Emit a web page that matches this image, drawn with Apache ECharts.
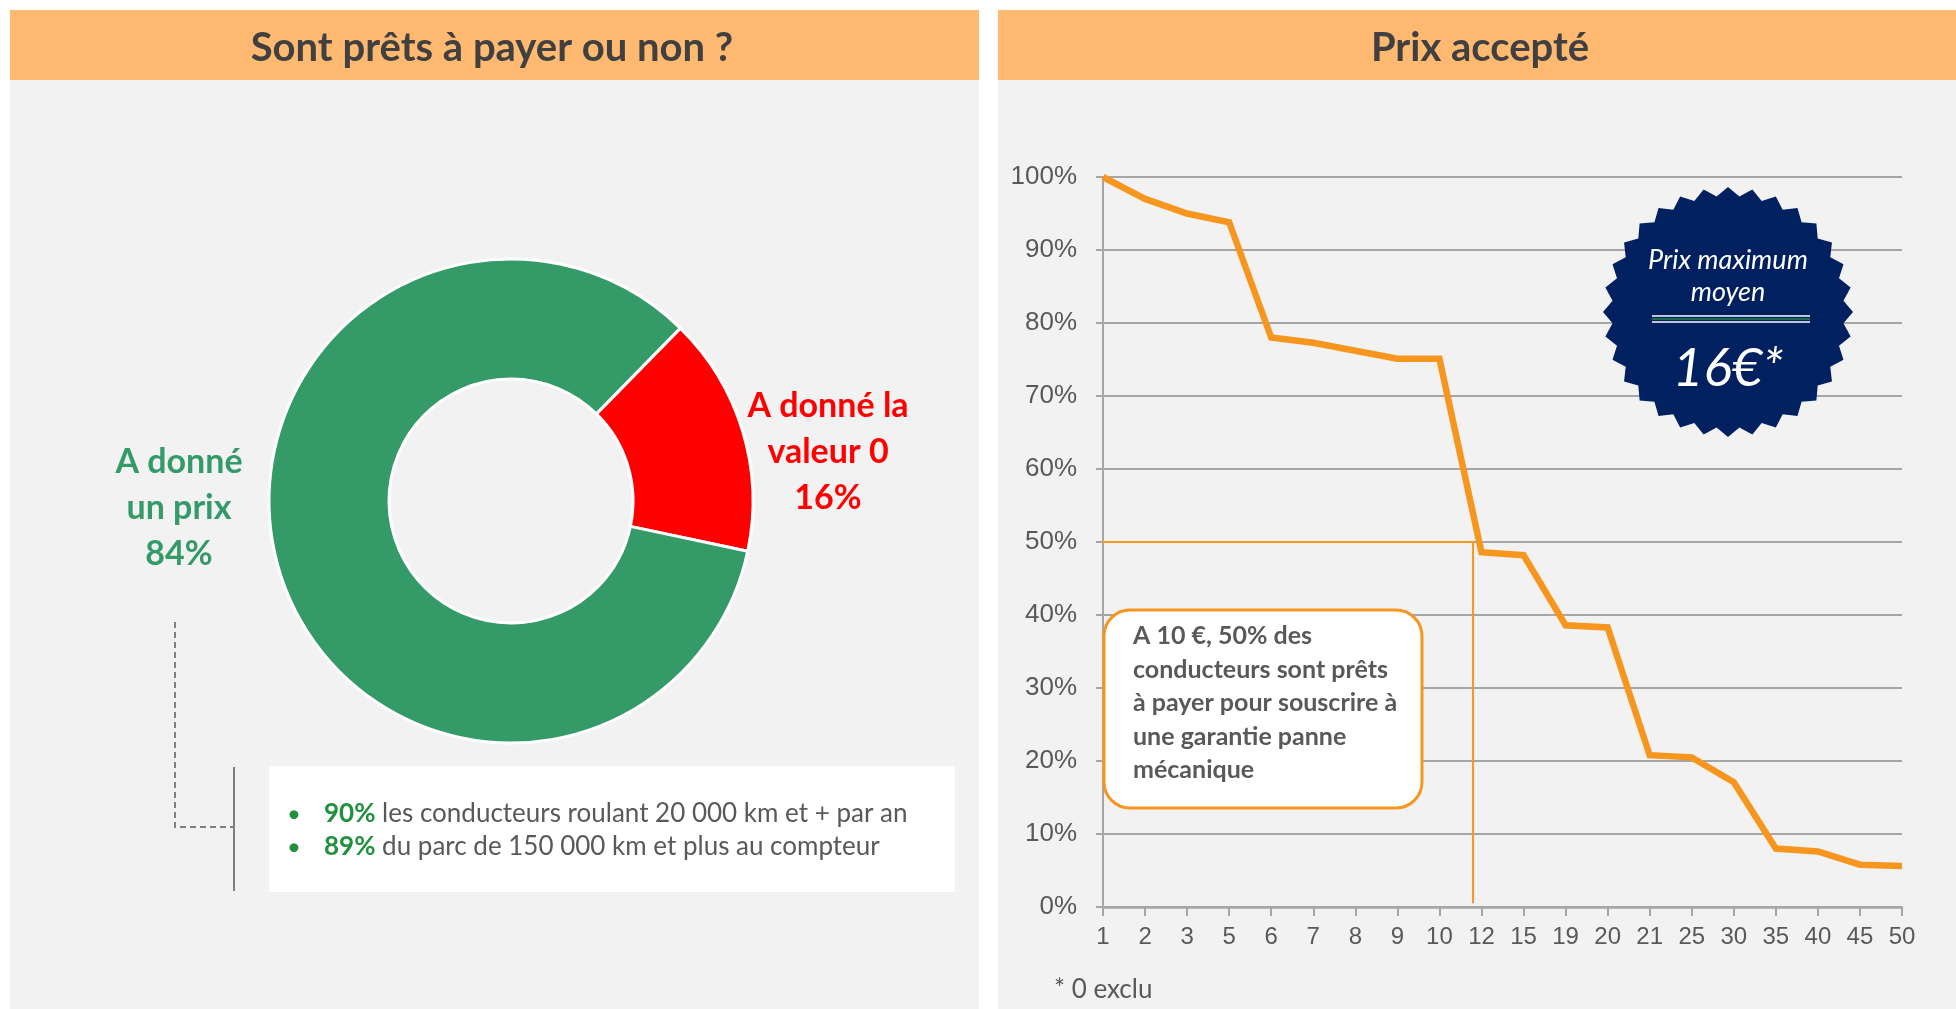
<!DOCTYPE html>
<html>
<head>
<meta charset="utf-8">
<script src="https://cdn.jsdelivr.net/npm/echarts@6/dist/echarts.min.js"></script>
<style>
  html, body { margin: 0; padding: 0; background: #ffffff; }
  #chart { width: 1956px; height: 1009px; }
</style>
</head>
<body>
<div id="chart"></div>
<script>
// ---- Donut: willingness to pay ----
const payLabelLines = [['A donné la', 'valeur 0'], ['A donné', 'un prix']];
const payShares = [16, 84];
const payColors = ['#FF0000', '#349A68'];

// ---- Line: share of drivers accepting each price ----
const priceLabels = ['1', '2', '3', '5', '6', '7', '8', '9', '10', '12', '15', '19', '20', '21', '25', '30', '35', '40', '45', '50'];
const acceptShare = [100, 97, 95, 93.8, 78, 77.3, 76.2, 75.1, 75.1, 48.6, 48.2, 38.6, 38.3, 20.8, 20.5, 17.1, 8.0, 7.6, 5.8, 5.6];

// 50 % reading guide (position along the price axis, between "10" and "12")
const guideLevel = 50;
const guidePricePos = 8.8;

// ---- Side notes ----
const noteShares = ['90%', '89%'];
const noteTexts = ['les conducteurs roulant 20 000 km et + par an', 'du parc de 150 000 km et plus au compteur'];
const calloutLines = ['A 10 €, 50% des', 'conducteurs sont prêts', 'à payer pour souscrire à', 'une garantie panne', 'mécanique'];
const badgeLines = ['Prix maximum', 'moyen'];
const badgeValue = '16€*';
const footnote = '* 0 exclu';
const panelTitles = ['Sont prêts à payer ou non ?', 'Prix accepté'];

const FONT = 'Lato, "Open Sans", sans-serif';
const AXIS_FONT = '"Liberation Sans", Arial, sans-serif';
const ORANGE = '#F7961E';
const GRID_GRAY = '#A6A6A6';
const TEXT_GRAY = '#595959';

const chart = echarts.init(document.getElementById('chart'), null, { renderer: 'canvas' });

// star-shaped badge outline
function starPoints(cx, cy, rOuter, rInner, n) {
  const pts = [];
  for (let i = 0; i < n * 2; i++) {
    const a = -Math.PI / 2 + i * Math.PI / n;
    const r = i % 2 === 0 ? rOuter : rInner;
    pts.push([cx + r * Math.cos(a), cy + r * Math.sin(a)]);
  }
  return pts;
}

const badgeCx = 1728, badgeCy = 312;

const graphics = [
  // panel backgrounds
  { type: 'rect', z: -100, silent: true, shape: { x: 10, y: 80, width: 969, height: 929 }, style: { fill: '#F2F2F2' } },
  { type: 'rect', z: -100, silent: true, shape: { x: 998, y: 80, width: 958, height: 929 }, style: { fill: '#F2F2F2' } },
  // panel headers
  { type: 'rect', z: -100, silent: true, shape: { x: 10, y: 10, width: 969, height: 70 }, style: { fill: '#FFB971' } },
  { type: 'rect', z: -100, silent: true, shape: { x: 998, y: 10, width: 958, height: 70 }, style: { fill: '#FFB971' } },
  { type: 'text', z: 10, silent: true, style: { text: panelTitles[0], x: 492, y: 48, align: 'center', verticalAlign: 'middle', fontFamily: FONT, fontWeight: 'bold', fontSize: 40, fill: '#404040' } },
  { type: 'text', z: 10, silent: true, style: { text: panelTitles[1], x: 1480, y: 48, align: 'center', verticalAlign: 'middle', fontFamily: FONT, fontWeight: 'bold', fontSize: 40, fill: '#404040' } },

  // bracket linking the green share to the notes
  { type: 'polyline', z: 5, silent: true, shape: { points: [[175, 622], [175, 827], [234, 827]] }, style: { stroke: '#7F7F7F', lineWidth: 2, lineDash: [6, 4], fill: null } },
  { type: 'line', z: 5, silent: true, shape: { x1: 234, y1: 767, x2: 234, y2: 891 }, style: { stroke: '#7F7F7F', lineWidth: 2 } },
  { type: 'rect', z: 5, silent: true, shape: { x: 269, y: 766, width: 686, height: 126 }, style: { fill: '#FFFFFF' } },

  // footnote
  { type: 'text', z: 10, silent: true, style: { text: footnote, x: 1054, y: 990, align: 'left', verticalAlign: 'middle', fontFamily: FONT, fontSize: 26, fill: TEXT_GRAY } },

  // callout box
  { type: 'rect', z: 100, silent: true, shape: { x: 1104, y: 610, width: 318, height: 198, r: 26 }, style: { fill: '#FFFFFF', stroke: ORANGE, lineWidth: 3 } },

  // badge
  { type: 'polygon', z: 100, silent: true, shape: { points: starPoints(badgeCx, badgeCy, 125, 116, 32) }, style: { fill: '#012060' } },
  { type: 'line', z: 101, silent: true, shape: { x1: 1652, y1: 316, x2: 1810, y2: 316 }, style: { stroke: '#FFFFFF', lineWidth: 1.5 } },
  { type: 'line', z: 101, silent: true, shape: { x1: 1652, y1: 319, x2: 1810, y2: 319 }, style: { stroke: '#1E6B52', lineWidth: 2 } },
  { type: 'line', z: 101, silent: true, shape: { x1: 1652, y1: 322, x2: 1810, y2: 322 }, style: { stroke: '#FFFFFF', lineWidth: 1.5 } },
  { type: 'text', z: 101, silent: true, style: { text: badgeLines[0], x: badgeCx, y: 260, align: 'center', verticalAlign: 'middle', fontFamily: FONT, fontStyle: 'italic', fontSize: 27, fill: '#FFFFFF' } },
  { type: 'text', z: 101, silent: true, style: { text: badgeLines[1], x: badgeCx, y: 292, align: 'center', verticalAlign: 'middle', fontFamily: FONT, fontStyle: 'italic', fontSize: 27, fill: '#FFFFFF' } },
  { type: 'text', z: 101, silent: true, style: { text: badgeValue, x: badgeCx, y: 369, align: 'center', verticalAlign: 'middle', fontFamily: FONT, fontStyle: 'italic', fontSize: 53, fill: '#FFFFFF' } }
];

// callout text lines
calloutLines.forEach((t, i) => {
  graphics.push({ type: 'text', z: 101, silent: true, style: { text: t, x: 1133, y: 636 + i * 33.5, align: 'left', verticalAlign: 'middle', fontFamily: FONT, fontWeight: 'bold', fontSize: 25, fill: TEXT_GRAY } });
});

// bullet notes
noteShares.forEach((s, i) => {
  const y = 814 + i * 33;
  graphics.push({ type: 'text', z: 10, silent: true, style: { text: '•', x: 294, y: y, align: 'center', verticalAlign: 'middle', fontFamily: FONT, fontSize: 24, fill: '#21913F' } });
  graphics.push({
    type: 'text', z: 10, silent: true,
    style: {
      text: '{g|' + s + '}{t| ' + noteTexts[i] + '}',
      x: 324, y: y, align: 'left', verticalAlign: 'middle',
      rich: {
        g: { fontFamily: FONT, fontWeight: 'bold', fontSize: 26, fill: '#21913F' },
        t: { fontFamily: FONT, fontSize: 26, fill: TEXT_GRAY }
      }
    }
  });
});

const payLabelPos = [[828, 452], [179, 508]];

const option = {
  backgroundColor: '#FFFFFF',
  animation: false,
  graphic: { elements: graphics },
  grid: { left: 1103, right: 54, top: 177, bottom: 102, containLabel: false },
  xAxis: [
    {
      type: 'category',
      data: priceLabels,
      boundaryGap: false,
      axisLine: { show: true, lineStyle: { color: GRID_GRAY, width: 2.5 } },
      axisTick: { show: true, length: 9, interval: 0, lineStyle: { color: GRID_GRAY, width: 2 } },
      axisLabel: { interval: 0, margin: 18, color: TEXT_GRAY, fontFamily: AXIS_FONT, fontSize: 24 },
      splitLine: { show: false }
    },
    { type: 'value', min: 0, max: priceLabels.length - 1, show: false }
  ],
  yAxis: {
    type: 'value',
    min: 0, max: 100, interval: 10,
    axisLine: { show: true, lineStyle: { color: GRID_GRAY, width: 2 } },
    axisTick: { show: true, length: 7, lineStyle: { color: GRID_GRAY, width: 2 } },
    axisLabel: { formatter: '{value}%', margin: 26, color: TEXT_GRAY, fontFamily: AXIS_FONT, fontSize: 26 },
    splitLine: { show: true, lineStyle: { color: GRID_GRAY, width: 2 } }
  },
  series: [
    {
      type: 'pie',
      center: [511, 501],
      radius: [122, 242],
      startAngle: 45.6,
      clockwise: true,
      silent: true,
      z: 3,
      itemStyle: { borderColor: '#FFFFFF', borderWidth: 3 },
      label: {
        show: true,
        position: 'outside',
        fontFamily: FONT,
        fontWeight: 'bold',
        fontSize: 34,
        lineHeight: 46,
        align: 'center',
        formatter: (p) => payLabelLines[p.dataIndex].join('\n') + '\n' + p.value + '%'
      },
      labelLine: { show: false },
      labelLayout: (p) => ({ x: payLabelPos[p.dataIndex][0], y: payLabelPos[p.dataIndex][1], align: 'center', verticalAlign: 'middle' }),
      emphasis: { disabled: true },
      data: payShares.map((v, i) => ({
        value: v,
        name: payLabelLines[i].join(' '),
        itemStyle: { color: payColors[i] },
        label: { color: payColors[i] }
      }))
    },
    {
      type: 'line',
      xAxisIndex: 1,
      yAxisIndex: 0,
      clip: false,
      silent: true,
      symbol: 'none',
      z: 3,
      lineStyle: { color: ORANGE, width: 2 },
      data: [[-0.3, guideLevel], [guidePricePos, guideLevel], [guidePricePos, 0.5]]
    },
    {
      type: 'line',
      xAxisIndex: 0,
      yAxisIndex: 0,
      silent: true,
      symbol: 'none',
      z: 4,
      lineStyle: { color: ORANGE, width: 6.5, join: 'miter' },
      data: acceptShare
    }
  ]
};

chart.setOption(option);
</script>
</body>
</html>
